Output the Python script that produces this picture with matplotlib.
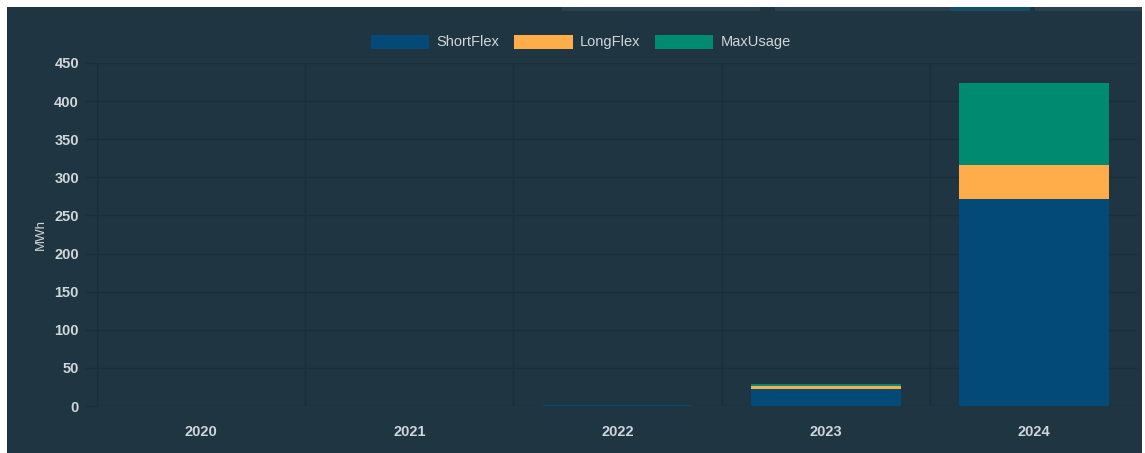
import matplotlib.pyplot as plt
import numpy as np
from matplotlib.patches import Rectangle

# data (MWh)
years = ["2020", "2021", "2022", "2023", "2024"]
short_flex = [0, 0, 1.5, 22, 272]
long_flex = [0, 0, 0, 4.5, 44]
max_usage = [0, 0, 0, 2, 108]
y_ticks = [0, 50, 100, 150, 200, 250, 300, 350, 400, 450]

bg = "#1f3542"
grid_col = "#1b2e39"
text_col = "#d0d6da"
c_short = "#034a78"
c_long = "#ffad4a"
c_max = "#008b70"

plt.rcParams['font.family'] = ['Liberation Sans', 'DejaVu Sans']

fig = plt.figure(figsize=[11.45, 4.53], dpi=100, facecolor="white")

# dark panel behind the chart
fig.patches.append(Rectangle((7 / 1145, 0), 1135 / 1145, 1 - 7 / 453,
                             transform=fig.transFigure, facecolor=bg,
                             edgecolor="none", zorder=-10))
# faint tab shapes in the top strip
for x0, x1 in [(562, 760), (775, 1022), (1035, 1142)]:
    fig.patches.append(Rectangle((x0 / 1145, 1 - 11 / 453), (x1 - x0) / 1145, 4 / 453,
                                 transform=fig.transFigure, facecolor="#2a414e",
                                 edgecolor="none", zorder=-9))
fig.patches.append(Rectangle((950 / 1145, 1 - 11 / 453), 80 / 1145, 4 / 453,
                             transform=fig.transFigure, facecolor="#15506a",
                             edgecolor="none", zorder=-8))

ax = fig.add_axes([97 / 1145, 1 - 406 / 453, (1138 - 97) / 1145, (406 - 63) / 453])
ax.set_facecolor(bg)

x = np.arange(len(years))
w = 0.72
bottom2 = np.array(short_flex)
bottom3 = bottom2 + np.array(long_flex)
ax.bar(x, short_flex, w, color=c_short, label="ShortFlex", zorder=3)
ax.bar(x, long_flex, w, bottom=bottom2, color=c_long, label="LongFlex", zorder=3)
ax.bar(x, max_usage, w, bottom=bottom3, color=c_max, label="MaxUsage", zorder=3)

ax.set_xlim(-0.5, len(years) - 0.5)
ax.set_ylim(0, 450)
ax.set_yticks(y_ticks)
ax.set_xticks(x)
ax.set_xticklabels(years)

# grid lines: horizontal at ticks, vertical between categories
for y in y_ticks:
    ax.axhline(y, color=grid_col, lw=1.0, zorder=1)
for b in np.arange(-0.5, len(years), 1.0):
    ax.axvline(b, color=grid_col, lw=1.0, zorder=1)
for s in ax.spines.values():
    s.set_visible(False)

ax.tick_params(axis="y", colors=grid_col, labelcolor=text_col, length=9, width=1.0,
               labelsize=10.5, pad=4)
ax.tick_params(axis="x", length=0, labelcolor=text_col, labelsize=10.5, pad=14)
for lbl in ax.get_xticklabels() + ax.get_yticklabels():
    lbl.set_fontweight("bold")

ax.set_ylabel("MWh", color=text_col, fontsize=9.5, labelpad=5)

fig.legend(loc="center", bbox_to_anchor=(581 / 1145, 1 - 42 / 453), ncol=3,
           frameon=False, handlelength=4.0, handleheight=1.1, handletextpad=0.5,
           columnspacing=1.0, fontsize=10.5, labelcolor=text_col)

fig.savefig("out.png", dpi=100, facecolor="white")
